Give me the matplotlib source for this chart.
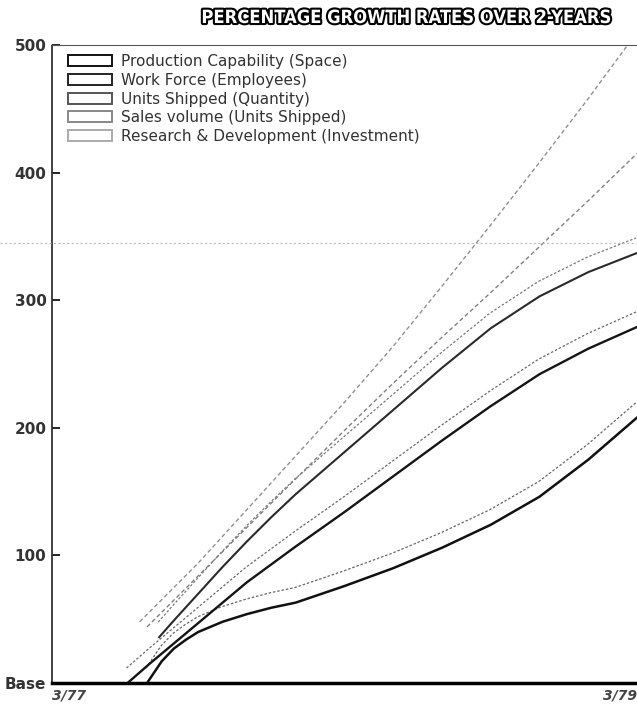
import matplotlib
matplotlib.use("Agg")
import matplotlib.pyplot as plt
import matplotlib.patheffects as pe
from matplotlib import font_manager
from matplotlib.patches import Patch
from matplotlib.lines import Line2D
from matplotlib.transforms import offset_copy

# months after 3/77, percentage growth over base
prod_months = [3.9, 4.5, 5, 5.5, 6, 7, 8, 9, 10, 12, 14, 16, 18, 20, 22, 24]
prod_vals = [0, 17, 27, 34, 40, 48, 54, 59, 63, 76, 90, 106, 124, 146, 175, 208]
work_months = [3.1, 4, 5, 6, 7, 8, 10, 12, 14, 16, 18, 20, 22, 24]
work_vals = [0, 15, 31, 47, 63, 79, 107, 134, 162, 190, 217, 242, 262, 279]
units_months = [4.4, 5, 6, 7, 8, 9, 10, 12, 14, 16, 18, 20, 22, 24]
units_vals = [36, 49, 70, 91, 111, 130, 148, 181, 214, 247, 278, 303, 322, 337]
sales_months = [3.9, 6, 8, 10, 12, 14, 16, 18, 20, 22, 24]
sales_vals = [44, 84, 122, 160, 198, 235, 271, 306, 342, 378, 415]
rnd_months = [3.6, 6, 8, 10, 12, 14, 16, 18, 20, 22, 24]
rnd_vals = [48, 94, 136, 178, 220, 264, 311, 359, 408, 458, 510]

labels = ["Production Capability (Space)", "Work Force (Employees)",
          "Units Shipped (Quantity)", "Sales volume (Units Shipped)",
          "Research & Development (Investment)"]
y_ticks = [0, 100, 200, 300, 400, 500]
y_ticklabels = ["Base", "100", "200", "300", "400", "500"]
x_ticks = [0, 24]
x_ticklabels = ["3/77", "3/79"]

series = [(prod_months, prod_vals), (work_months, work_vals),
          (units_months, units_vals), (sales_months, sales_vals),
          (rnd_months, rnd_vals)]
# dark edge colour, width, style, light edge colour (None = single line)
styles = [("#111111", 1.8, "-", "#666666"),
          ("#151515", 1.7, "-", "#6a6a6a"),
          ("#2a2a2a", 1.5, "-", "#7a7a7a"),
          ("#808080", 1.0, (0, (3, 2)), None),
          ("#909090", 1.0, (0, (3, 2)), None)]

fig = plt.figure(figsize=(6.37, 7.10), dpi=100)
ax = fig.add_axes([52 / 637, 1 - 683 / 710, 1 - 52 / 637, (683 - 45) / 710])

upper = offset_copy(ax.transData, fig=fig, x=-1, y=15, units="dots")
for (mx, vals), (dark, lw, ls, light) in zip(series, styles):
    if light:
        ax.plot(mx, vals, color=light, lw=0.9, ls=(0, (2, 1.5)), transform=upper)
    ax.plot(mx, vals, color=dark, lw=lw, ls=ls)

ax.set_xlim(0, 24)
ax.set_ylim(0, 500)
ax.set_yticks(y_ticks)
ax.set_yticklabels(y_ticklabels)
ax.set_xticks(x_ticks)
ax.set_xticklabels(x_ticklabels)
ax.tick_params(axis="y", direction="in", length=6, width=1.2, pad=4,
               labelsize=11, labelcolor="#333333")
ax.tick_params(axis="x", length=0, pad=4, labelsize=10, labelcolor="#444444")
for lab in ax.get_yticklabels():
    lab.set_fontweight("bold")
for lab, ha in zip(ax.get_xticklabels(), ["left", "right"]):
    lab.set_horizontalalignment(ha)
    lab.set_fontstyle("italic")
    lab.set_fontweight("bold")

ax.spines["right"].set_visible(False)
ax.spines["bottom"].set_linewidth(2.5)
ax.spines["left"].set_linestyle((0, (2, 1)))
ax.spines["left"].set_color("#333333")
ax.spines["left"].set_linewidth(1.3)
ax.spines["top"].set_linestyle((0, (1, 1)))
ax.spines["top"].set_color("#555555")

# scanner fold across the page
fig.add_artist(Line2D([0, 1], [1 - 243 / 710] * 2, color="#bbbbbb", lw=0.8,
                      ls=(0, (2, 2)), transform=fig.transFigure))

edge_cols = ["#111111", "#222222", "#555555", "#888888", "#aaaaaa"]
handles = [Patch(facecolor="white", edgecolor=c, lw=1.4) for c in edge_cols]
leg = ax.legend(handles, labels, loc="upper left", bbox_to_anchor=(0.012, 1.0),
                frameon=False, fontsize=11, handlelength=2.9, handleheight=0.7,
                handletextpad=0.55, labelspacing=0.24, borderaxespad=0.2)
for t in leg.get_texts():
    t.set_color("#333333")

# title: a narrow bold face if one is installed, fitted to the reference width
title_family = ["DejaVu Sans"]
title_stretch = "normal"
for fam in ["Liberation Sans Narrow", "DejaVu Sans Condensed"]:
    try:
        font_manager.findfont(font_manager.FontProperties(family=fam, weight="bold"),
                              fallback_to_default=False)
        title_family = [fam, "DejaVu Sans"]
        break
    except ValueError:
        pass
else:
    title_stretch = "condensed"

title = fig.text(407 / 637, 1 - 18 / 710, "PERCENTAGE GROWTH RATES OVER 2-YEARS",
                 ha="center", va="center", fontsize=16, fontweight="bold",
                 family=title_family, fontstretch=title_stretch, color="white",
                 path_effects=[pe.withStroke(linewidth=3, foreground="black")])
renderer = fig.canvas.get_renderer()
w = title.get_window_extent(renderer).width
title.set_fontsize(16 * 412 / w)

fig.savefig("out.png", dpi=100)
